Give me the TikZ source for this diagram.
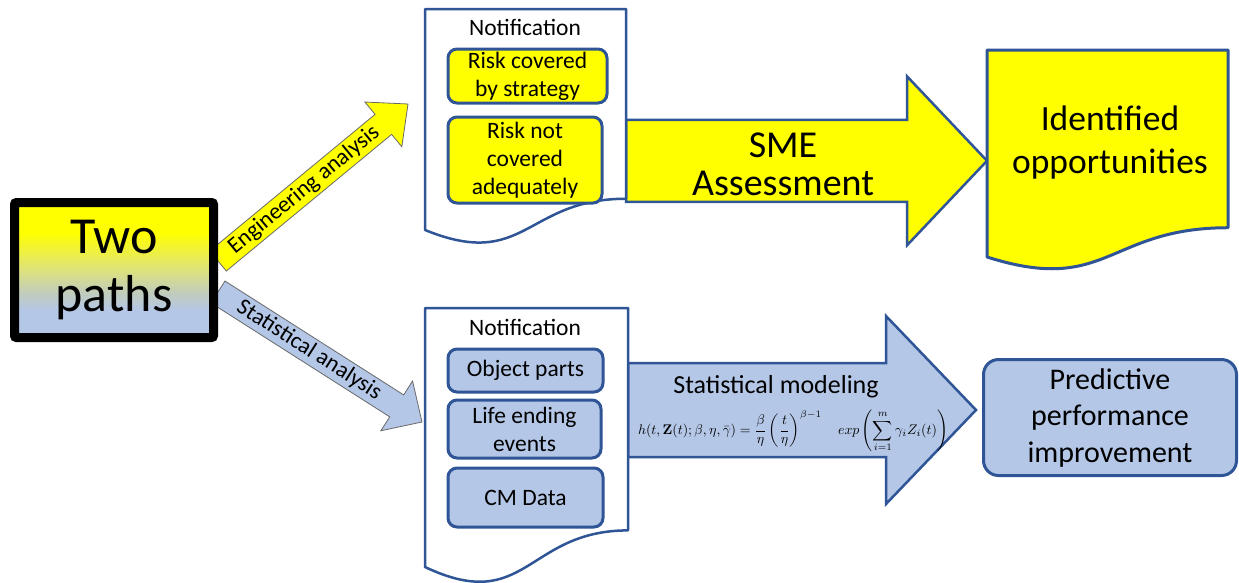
\documentclass[tikz,border=0pt]{standalone}
\usepackage[no-math]{fontspec}
\setmainfont{Carlito}
\usepackage{graphicx}
\usetikzlibrary{calc,backgrounds}
\definecolor{yel}{RGB}{255,255,0}
\definecolor{bfill}{RGB}{180,199,231}
\definecolor{bline}{RGB}{47,85,151}
\definecolor{midc}{RGB}{222,226,125}
\definecolor{midd}{RGB}{194,204,185}
\definecolor{arrline}{RGB}{105,105,105}
\pgfdeclareverticalshading{twopaths}{100bp}{color(0bp)=(bfill); color(35bp)=(bfill); color(42bp)=(midd); color(50bp)=(midc); color(64bp)=(yel); color(100bp)=(yel)}
\newcommand\blockarr[7]{%
  \path ($(#2)!#6!(#1)$) coordinate (#3);
  \draw[#7] ($(#1)!#4!90:(#2)$) -- ($(#3)!#4!90:(#2)$) -- ($(#3)!#5!90:(#2)$) -- (#2) -- ($(#3)!#5!-90:(#2)$) -- ($(#3)!#4!-90:(#2)$) -- ($(#1)!#4!-90:(#2)$) -- cycle;}
\newcommand\docpath[2]{%
  \draw[#2] (#1.north west) -- (#1.north east) -- ($(#1.north east)!0.802!(#1.south east)$) .. controls ($(#1.north)!0.802!(#1.south)$) and ($(#1.north)!1.107!(#1.south)$) .. ($(#1.north west)!0.934!(#1.south west)$) -- cycle;}
\tikzset{
  holder/.style={inner sep=0, outer sep=0, anchor=north west},
  docline/.style={draw=bline, line width=2.5pt, line join=round},
  innerbox/.style={draw=bline, line width=3pt, rounded corners=9pt, align=center, inner sep=0, font=\fontsize{23.5}{28}\selectfont},
  ybox/.style={innerbox, fill=yel},
  bbox/.style={innerbox, fill=bfill},
  lbl/.style={inner sep=0, font=\fontsize{23.5}{28}\selectfont},
  thinarr/.style={draw=arrline, line width=0.8pt, line join=miter},
  bigarr/.style={draw=bline, line width=2.5pt, line join=miter},
  arrlbl/.style={inner sep=0, sloped, font=\fontsize{23}{27}\selectfont},
}
\begin{document}
\begin{tikzpicture}[x=1pt,y=-1pt]
\useasboundingbox (0,0) rectangle (1239,582);
% source box
\node[draw=black, line width=9pt, shade, shading=twopaths, shading angle=0, rounded corners=2pt, minimum width=199pt, minimum height=135pt, inner sep=0, align=center, font=\fontsize{52}{58}\selectfont] (tp) at (114,270) {Two\\paths};
% top document
\node[holder, minimum width=201pt, minimum height=236.6pt] (doc1) at (425,9) {};
\docpath{doc1}{docline, fill=white}
\node[lbl, anchor=base] (n1) at (525,35) {Notification};
\node[ybox, minimum width=159pt, minimum height=54pt] (r1) at (527.5,76) {Risk covered\\by strategy};
\node[ybox, minimum width=154pt, minimum height=86pt] (r2) at (525,160) {Risk not\\covered\\adequately};
% identified opportunities
\node[holder, minimum width=241pt, minimum height=221.6pt] (ido) at (987,50) {};
\docpath{ido}{draw=bline, line width=3pt, fill=yel, line join=round}
\node[inner sep=0, align=center, font=\fontsize{35.5}{43}\selectfont] (idt) at (1110,142.5) {Identified\\opportunities};
% bottom document
\node[holder, minimum width=203pt, minimum height=277.3pt] (doc2) at (425,308) {};
\docpath{doc2}{docline, fill=white}
\node[lbl, anchor=base] (n2) at (525,335) {Notification};
\node[bbox, minimum width=155pt, minimum height=43pt] (b1) at (525.5,370.5) {Object parts};
\node[bbox, minimum width=153pt, minimum height=58pt] (b2) at (524.5,429) {Life ending\\events};
\node[bbox, minimum width=155pt, minimum height=59pt] (b3) at (525.5,497.5) {CM Data};
% predictive box
\node[draw=bline, line width=3pt, fill=bfill, rounded corners=15pt, minimum width=253pt, minimum height=116pt, inner sep=0, align=center, font=\fontsize{30}{36.5}\selectfont] (pred) at (1110,417.5) {Predictive\\performance\\improvement};
% connector end points
\coordinate (engS) at ($(tp.east)+(0,-9)$);
\coordinate (engT) at (408,104);
\coordinate (stS) at ($(tp.east)+(0,22)$);
\coordinate (stT) at (422,422);
\coordinate (smeT) at (ido.west);
\coordinate (smeS) at (doc1.east |- smeT);
\coordinate (smT) at (976,410);
\coordinate (smS) at (doc2.east |- smT);
\begin{scope}[on background layer]
\fill[white] (0,0) rectangle (1239,582);
\blockarr{engS}{engT}{engB}{13pt}{29pt}{32pt}{thinarr, fill=yel}
\blockarr{stS}{stT}{stB}{13pt}{29.5pt}{30pt}{thinarr, fill=bfill}
\blockarr{smeS}{smeT}{smeB}{41pt}{84.5pt}{80pt}{bigarr, fill=yel}
\blockarr{smS}{smT}{smB}{47pt}{94pt}{90pt}{bigarr, fill=bfill}
\end{scope}
% labels on arrows
\path (engS) -- (engB) node[arrlbl, pos=0.52] (engL) {Engineering analysis};
\path (stS) -- (stB) node[arrlbl, pos=0.51] (stL) {Statistical analysis};
\node[inner sep=0, align=center, font=\fontsize{38}{38}\selectfont] (sme) at (783,164) {SME\\Assessment};
\node[inner sep=0, anchor=base, font=\fontsize{26}{30}\selectfont] (smL) at (776,393) {Statistical modeling};
\node[inner sep=0] (form) at (793,431) {\resizebox{310pt}{!}{$\displaystyle h(t,\mathbf{Z}(t);\beta,\eta,\bar{\gamma})=\frac{\beta}{\eta}\left(\frac{t}{\eta}\right)^{\beta-1}\quad exp\left(\sum_{i=1}^{m}\gamma_i Z_i(t)\right)$}};
\end{tikzpicture}
\end{document}
